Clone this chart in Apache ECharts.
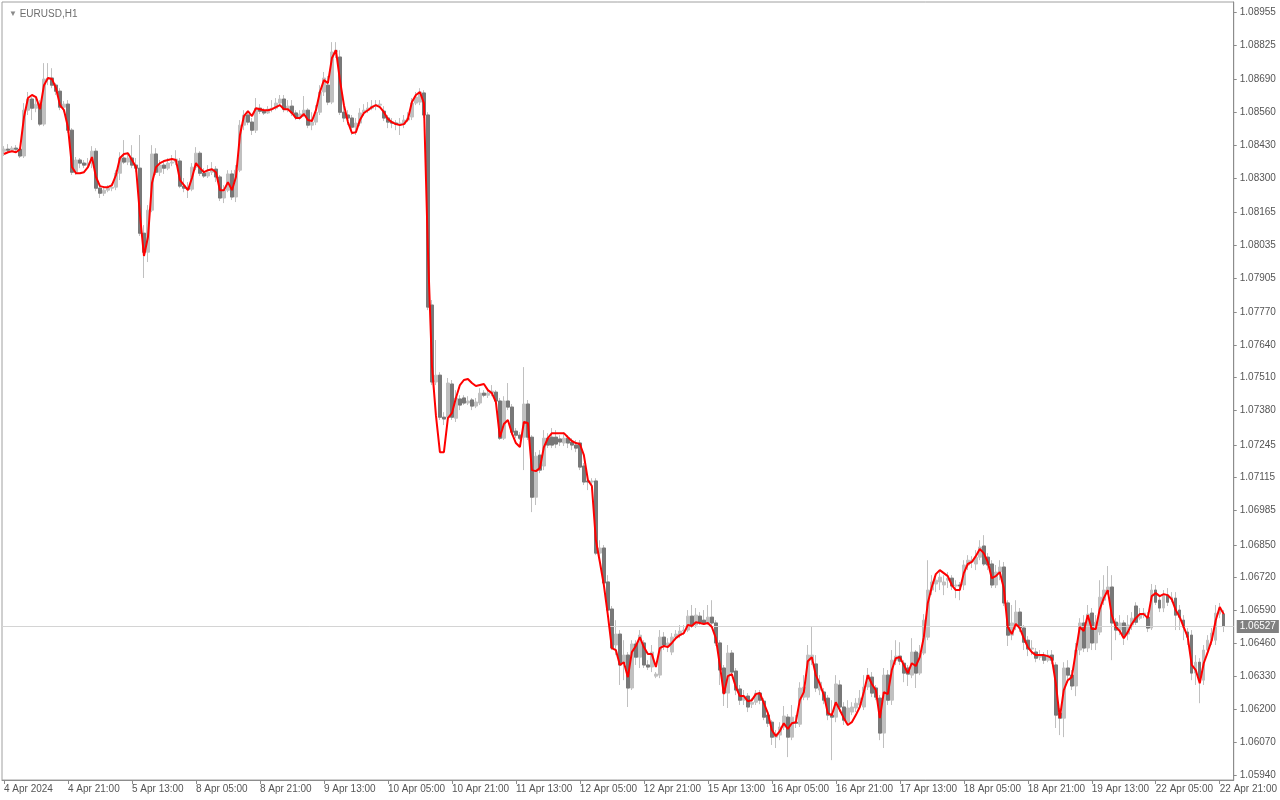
<!DOCTYPE html>
<html>
<head>
<meta charset="utf-8">
<script src="https://cdn.jsdelivr.net/npm/echarts@6/dist/echarts.min.js"></script>
<style>
html,body{margin:0;padding:0;background:#fff;}
#c{width:1280px;height:800px;}
</style>
</head>
<body>
<div id="c"></div>
<script>
// ---- data (EURUSD H1, 4 Apr 2024 05:00 .. 22 Apr 2024 22:00) ----
const symbolTitle = 'EURUSD,H1';
const startTime = '2024-04-04T05:00:00Z';
const priceTicks = ['1.08955','1.08825','1.08690','1.08560','1.08430','1.08300','1.08165','1.08035','1.07905','1.07770','1.07640','1.07510','1.07380','1.07245','1.07115','1.06985','1.06850','1.06720','1.06590','1.06460','1.06330','1.06200','1.06070','1.05940'];
const lastPrice = 1.06527;

const openV = [1.08405,1.08413,1.08409,1.08417,1.08413,1.08386,1.08567,1.08611,1.08575,1.08591,1.08512,1.08690,1.08694,1.08666,1.08642,1.08579,1.08591,1.08488,1.08322,1.08370,
1.08358,1.08350,1.08358,1.08405,1.08259,1.08239,1.08251,1.08259,1.08263,1.08318,1.08378,1.08362,1.08378,1.08350,1.08338,1.08081,1.08006,1.08172,1.08394,1.08322,
1.08350,1.08338,1.08358,1.08362,1.08366,1.08267,1.08259,1.08255,1.08342,1.08397,1.08318,1.08307,1.08322,1.08334,1.08303,1.08220,1.08251,1.08315,1.08224,1.08330,
1.08508,1.08548,1.08520,1.08488,1.08575,1.08563,1.08556,1.08571,1.08575,1.08595,1.08611,1.08571,1.08583,1.08556,1.08540,1.08552,1.08567,1.08508,1.08520,1.08559,
1.08639,1.08666,1.08599,1.08797,1.08777,1.08559,1.08548,1.08536,1.08500,1.08516,1.08556,1.08567,1.08575,1.08583,1.08587,1.08563,1.08536,1.08520,1.08516,1.08512,
1.08512,1.08528,1.08540,1.08595,1.08599,1.08635,1.08548,1.07797,1.07493,1.07520,1.07354,1.07354,1.07485,1.07350,1.07426,1.07430,1.07410,1.07422,1.07398,1.07410,
1.07449,1.07441,1.07449,1.07453,1.07418,1.07271,1.07418,1.07394,1.07299,1.07283,1.07275,1.07406,1.07275,1.07038,1.07204,1.07161,1.07271,1.07275,1.07275,1.07268,
1.07252,1.07271,1.07256,1.07244,1.07252,1.07161,1.07102,1.07098,1.07102,1.06817,1.06837,1.06703,1.06596,1.06454,1.06497,1.06382,1.06414,1.06284,1.06458,1.06406,
1.06462,1.06375,1.06367,1.06331,1.06335,1.06485,1.06454,1.06426,1.06485,1.06493,1.06509,1.06513,1.06568,1.06533,1.06568,1.06552,1.06541,1.06564,1.06541,1.06462,
1.06363,1.06264,1.06422,1.06351,1.06280,1.06236,1.06252,1.06220,1.06228,1.06264,1.06232,1.06177,1.06149,1.06090,1.06098,1.06130,1.06169,1.06090,1.06149,1.06141,
1.06248,1.06248,1.06394,1.06379,1.06276,1.06268,1.06244,1.06177,1.06169,1.06296,1.06209,1.06149,1.06189,1.06205,1.06217,1.06209,1.06288,1.06327,1.06284,1.06244,
1.06106,1.06335,1.06236,1.06394,1.06410,1.06382,1.06363,1.06335,1.06426,1.06343,1.06422,1.06485,1.06671,1.06695,1.06703,1.06691,1.06710,1.06718,1.06687,1.06691,
1.06691,1.06770,1.06782,1.06774,1.06801,1.06845,1.06801,1.06774,1.06691,1.06742,1.06762,1.06620,1.06493,1.06533,1.06584,1.06521,1.06473,1.06438,1.06426,1.06406,
1.06414,1.06394,1.06414,1.06375,1.06185,1.06165,1.06363,1.06335,1.06292,1.06434,1.06541,1.06442,1.06580,1.06462,1.06505,1.06631,1.06663,1.06683,1.06544,1.06513,
1.06541,1.06497,1.06533,1.06608,1.06560,1.06572,1.06564,1.06521,1.06671,1.06631,1.06600,1.06651,1.06635,1.06639,1.06592,1.06552,1.06505,1.06493,1.06343,1.06386,
1.06315,1.06434,1.06473,1.06473,1.06576,1.06576];

const highV = [1.08425,1.08433,1.08425,1.08429,1.08421,1.08595,1.08639,1.08619,1.08623,1.08607,1.08753,1.08753,1.08733,1.08674,1.08654,1.08603,1.08607,1.08496,1.08382,1.08378,
1.08370,1.08378,1.08425,1.08417,1.08271,1.08267,1.08271,1.08279,1.08330,1.08401,1.08449,1.08401,1.08429,1.08378,1.08469,1.08113,1.08192,1.08429,1.08417,1.08370,
1.08370,1.08378,1.08390,1.08409,1.08378,1.08299,1.08283,1.08358,1.08421,1.08405,1.08338,1.08350,1.08362,1.08346,1.08311,1.08271,1.08330,1.08330,1.08350,1.08528,
1.08567,1.08556,1.08536,1.08615,1.08591,1.08575,1.08583,1.08607,1.08615,1.08627,1.08627,1.08607,1.08607,1.08567,1.08567,1.08623,1.08575,1.08559,1.08587,1.08666,
1.08718,1.08702,1.08836,1.08836,1.08804,1.08587,1.08567,1.08548,1.08536,1.08575,1.08591,1.08599,1.08607,1.08607,1.08607,1.08583,1.08548,1.08536,1.08528,1.08536,
1.08548,1.08559,1.08615,1.08639,1.08654,1.08646,1.08559,1.07817,1.07659,1.07532,1.07374,1.07509,1.07501,1.07461,1.07441,1.07441,1.07437,1.07430,1.07430,1.07469,
1.07461,1.07469,1.07481,1.07461,1.07430,1.07437,1.07489,1.07406,1.07311,1.07295,1.07552,1.07422,1.07283,1.07216,1.07224,1.07303,1.07291,1.07311,1.07303,1.07283,
1.07295,1.07283,1.07271,1.07264,1.07264,1.07173,1.07125,1.07113,1.07113,1.06868,1.06849,1.06730,1.06608,1.06552,1.06513,1.06473,1.06426,1.06473,1.06473,1.06513,
1.06473,1.06394,1.06454,1.06347,1.06513,1.06505,1.06481,1.06501,1.06513,1.06533,1.06533,1.06592,1.06612,1.06600,1.06584,1.06592,1.06612,1.06631,1.06552,1.06473,
1.06375,1.06454,1.06434,1.06363,1.06296,1.06276,1.06264,1.06244,1.06276,1.06276,1.06244,1.06189,1.06157,1.06118,1.06149,1.06213,1.06181,1.06217,1.06177,1.06307,
1.06335,1.06454,1.06525,1.06414,1.06335,1.06284,1.06256,1.06236,1.06335,1.06315,1.06228,1.06236,1.06228,1.06244,1.06276,1.06335,1.06363,1.06347,1.06296,1.06256,
1.06363,1.06355,1.06434,1.06473,1.06465,1.06394,1.06375,1.06481,1.06434,1.06454,1.06576,1.06789,1.06730,1.06730,1.06750,1.06730,1.06742,1.06730,1.06710,1.06703,
1.06789,1.06809,1.06805,1.06829,1.06868,1.06888,1.06817,1.06789,1.06770,1.06789,1.06782,1.06631,1.06612,1.06631,1.06600,1.06533,1.06489,1.06473,1.06442,1.06434,
1.06426,1.06434,1.06434,1.06386,1.06205,1.06386,1.06394,1.06355,1.06462,1.06560,1.06572,1.06612,1.06600,1.06572,1.06710,1.06730,1.06766,1.06730,1.06560,1.06572,
1.06552,1.06572,1.06584,1.06623,1.06600,1.06600,1.06584,1.06695,1.06691,1.06651,1.06671,1.06679,1.06663,1.06663,1.06612,1.06572,1.06521,1.06513,1.06414,1.06402,
1.06454,1.06493,1.06521,1.06612,1.06620,1.06592];

const lowV = [1.08386,1.08401,1.08405,1.08401,1.08378,1.08378,1.08548,1.08528,1.08559,1.08504,1.08504,1.08666,1.08654,1.08627,1.08567,1.08559,1.08477,1.08311,1.08311,1.08338,
1.08338,1.08342,1.08338,1.08247,1.08220,1.08228,1.08243,1.08247,1.08251,1.08291,1.08354,1.08350,1.08338,1.08322,1.08070,1.07904,1.07967,1.08164,1.08311,1.08307,
1.08315,1.08330,1.08346,1.08350,1.08259,1.08243,1.08220,1.08247,1.08330,1.08307,1.08299,1.08299,1.08311,1.08283,1.08208,1.08200,1.08243,1.08212,1.08204,1.08322,
1.08488,1.08508,1.08469,1.08477,1.08552,1.08548,1.08552,1.08559,1.08567,1.08587,1.08559,1.08559,1.08544,1.08528,1.08528,1.08540,1.08496,1.08488,1.08508,1.08548,
1.08623,1.08587,1.08591,1.08773,1.08548,1.08520,1.08508,1.08469,1.08469,1.08504,1.08544,1.08556,1.08567,1.08567,1.08575,1.08524,1.08496,1.08496,1.08488,1.08469,
1.08496,1.08520,1.08528,1.08587,1.08587,1.08536,1.07777,1.07481,1.07481,1.07343,1.07323,1.07343,1.07343,1.07335,1.07382,1.07402,1.07402,1.07382,1.07390,1.07402,
1.07433,1.07430,1.07437,1.07406,1.07264,1.07264,1.07382,1.07283,1.07271,1.07264,1.07145,1.07264,1.06979,1.07007,1.07133,1.07145,1.07232,1.07232,1.07232,1.07240,
1.07240,1.07232,1.07224,1.07216,1.07145,1.07086,1.07066,1.07066,1.06809,1.06805,1.06691,1.06584,1.06434,1.06414,1.06296,1.06315,1.06209,1.06276,1.06375,1.06363,
1.06363,1.06355,1.06347,1.06323,1.06323,1.06434,1.06426,1.06414,1.06473,1.06481,1.06493,1.06505,1.06521,1.06521,1.06533,1.06533,1.06533,1.06525,1.06450,1.06296,
1.06213,1.06205,1.06335,1.06256,1.06217,1.06217,1.06189,1.06205,1.06217,1.06220,1.06157,1.06130,1.06059,1.06047,1.06078,1.06118,1.06011,1.06078,1.06126,1.06130,
1.06236,1.06236,1.06375,1.06268,1.06256,1.06220,1.06157,1.05999,1.06149,1.06189,1.06138,1.06134,1.06177,1.06189,1.06205,1.06197,1.06276,1.06248,1.06236,1.06078,
1.06047,1.06217,1.06217,1.06375,1.06375,1.06307,1.06292,1.06323,1.06284,1.06335,1.06414,1.06473,1.06651,1.06663,1.06671,1.06651,1.06679,1.06671,1.06639,1.06631,
1.06671,1.06750,1.06758,1.06750,1.06789,1.06766,1.06750,1.06679,1.06679,1.06710,1.06608,1.06450,1.06473,1.06513,1.06505,1.06434,1.06410,1.06414,1.06386,1.06394,
1.06379,1.06386,1.06379,1.06126,1.06098,1.06090,1.06315,1.06276,1.06252,1.06414,1.06426,1.06426,1.06434,1.06434,1.06493,1.06612,1.06651,1.06394,1.06473,1.06493,
1.06454,1.06473,1.06513,1.06533,1.06552,1.06560,1.06505,1.06513,1.06612,1.06584,1.06584,1.06608,1.06623,1.06513,1.06513,1.06473,1.06454,1.06315,1.06296,1.06224,
1.06296,1.06414,1.06454,1.06454,1.06560,1.06505];

const closeV = [1.08413,1.08409,1.08417,1.08413,1.08386,1.08567,1.08611,1.08575,1.08591,1.08512,1.08690,1.08694,1.08666,1.08642,1.08579,1.08591,1.08488,1.08322,1.08370,1.08358,
1.08350,1.08358,1.08405,1.08259,1.08239,1.08251,1.08259,1.08263,1.08318,1.08378,1.08362,1.08378,1.08350,1.08338,1.08081,1.08006,1.08172,1.08394,1.08322,1.08350,
1.08338,1.08358,1.08362,1.08374,1.08267,1.08259,1.08255,1.08342,1.08397,1.08318,1.08307,1.08322,1.08334,1.08303,1.08220,1.08251,1.08315,1.08224,1.08330,1.08508,
1.08548,1.08520,1.08488,1.08575,1.08563,1.08556,1.08571,1.08575,1.08595,1.08611,1.08571,1.08583,1.08556,1.08540,1.08552,1.08567,1.08508,1.08520,1.08559,1.08639,
1.08694,1.08599,1.08797,1.08804,1.08559,1.08536,1.08536,1.08500,1.08516,1.08556,1.08567,1.08575,1.08583,1.08587,1.08591,1.08536,1.08520,1.08516,1.08512,1.08516,
1.08528,1.08536,1.08595,1.08619,1.08639,1.08548,1.07789,1.07493,1.07520,1.07354,1.07347,1.07489,1.07354,1.07430,1.07402,1.07410,1.07418,1.07398,1.07414,1.07449,
1.07441,1.07449,1.07457,1.07418,1.07271,1.07418,1.07394,1.07295,1.07283,1.07271,1.07406,1.07275,1.07038,1.07200,1.07145,1.07271,1.07244,1.07244,1.07248,1.07256,
1.07271,1.07252,1.07244,1.07232,1.07157,1.07098,1.07098,1.07102,1.06817,1.06837,1.06699,1.06592,1.06442,1.06497,1.06375,1.06414,1.06284,1.06458,1.06406,1.06493,
1.06375,1.06367,1.06426,1.06339,1.06485,1.06454,1.06462,1.06485,1.06497,1.06509,1.06513,1.06568,1.06533,1.06572,1.06544,1.06541,1.06564,1.06541,1.06462,1.06355,
1.06264,1.06422,1.06347,1.06276,1.06236,1.06252,1.06209,1.06228,1.06264,1.06236,1.06169,1.06145,1.06090,1.06102,1.06130,1.06173,1.06090,1.06169,1.06145,1.06284,
1.06288,1.06414,1.06414,1.06284,1.06307,1.06236,1.06177,1.06169,1.06300,1.06209,1.06157,1.06205,1.06209,1.06224,1.06244,1.06288,1.06335,1.06264,1.06248,1.06106,
1.06335,1.06236,1.06394,1.06410,1.06390,1.06343,1.06339,1.06426,1.06343,1.06422,1.06552,1.06671,1.06703,1.06710,1.06722,1.06703,1.06718,1.06687,1.06691,1.06687,
1.06770,1.06789,1.06789,1.06801,1.06841,1.06774,1.06770,1.06691,1.06742,1.06762,1.06620,1.06493,1.06541,1.06584,1.06521,1.06465,1.06438,1.06442,1.06402,1.06414,
1.06394,1.06414,1.06394,1.06177,1.06165,1.06363,1.06335,1.06292,1.06434,1.06541,1.06442,1.06576,1.06462,1.06544,1.06643,1.06671,1.06683,1.06541,1.06513,1.06541,
1.06493,1.06533,1.06560,1.06544,1.06576,1.06580,1.06521,1.06671,1.06623,1.06600,1.06651,1.06623,1.06643,1.06572,1.06564,1.06525,1.06485,1.06343,1.06386,1.06315,
1.06434,1.06473,1.06501,1.06580,1.06600,1.06527];

// red smoothed indicator line
const smoothV = [1.08394,1.08401,1.08405,1.08401,1.08413,1.08540,1.08615,1.08627,1.08619,1.08571,1.08666,1.08694,1.08690,1.08654,1.08587,1.08567,1.08500,1.08342,1.08318,1.08318,
1.08322,1.08342,1.08382,1.08303,1.08267,1.08263,1.08263,1.08271,1.08311,1.08378,1.08394,1.08397,1.08370,1.08342,1.08153,1.07991,1.08066,1.08279,1.08342,1.08358,
1.08366,1.08370,1.08374,1.08370,1.08291,1.08271,1.08251,1.08299,1.08358,1.08338,1.08322,1.08330,1.08334,1.08322,1.08251,1.08251,1.08283,1.08251,1.08303,1.08469,
1.08544,1.08563,1.08544,1.08575,1.08571,1.08567,1.08567,1.08571,1.08579,1.08587,1.08571,1.08571,1.08556,1.08536,1.08536,1.08552,1.08528,1.08524,1.08567,1.08639,
1.08686,1.08674,1.08773,1.08804,1.08686,1.08587,1.08520,1.08477,1.08480,1.08528,1.08556,1.08567,1.08579,1.08587,1.08579,1.08559,1.08532,1.08520,1.08512,1.08508,
1.08512,1.08532,1.08599,1.08627,1.08639,1.08595,1.08015,1.07560,1.07362,1.07216,1.07216,1.07350,1.07370,1.07430,1.07481,1.07501,1.07505,1.07489,1.07477,1.07481,
1.07485,1.07461,1.07449,1.07414,1.07275,1.07327,1.07343,1.07291,1.07252,1.07236,1.07335,1.07331,1.07145,1.07141,1.07153,1.07236,1.07271,1.07291,1.07291,1.07291,
1.07291,1.07275,1.07260,1.07252,1.07248,1.07204,1.07106,1.07082,1.06868,1.06782,1.06691,1.06572,1.06442,1.06434,1.06375,1.06386,1.06327,1.06426,1.06450,1.06485,
1.06446,1.06418,1.06418,1.06367,1.06442,1.06450,1.06446,1.06462,1.06481,1.06493,1.06501,1.06533,1.06529,1.06544,1.06541,1.06537,1.06541,1.06525,1.06481,1.06375,
1.06260,1.06331,1.06339,1.06288,1.06252,1.06252,1.06232,1.06236,1.06260,1.06264,1.06224,1.06185,1.06118,1.06094,1.06114,1.06145,1.06122,1.06145,1.06149,1.06236,
1.06268,1.06390,1.06406,1.06335,1.06300,1.06256,1.06185,1.06177,1.06228,1.06197,1.06165,1.06138,1.06149,1.06177,1.06209,1.06268,1.06335,1.06300,1.06276,1.06165,
1.06268,1.06260,1.06355,1.06402,1.06406,1.06375,1.06343,1.06382,1.06371,1.06406,1.06485,1.06620,1.06683,1.06734,1.06750,1.06738,1.06726,1.06691,1.06671,1.06671,
1.06738,1.06774,1.06782,1.06805,1.06833,1.06817,1.06782,1.06718,1.06726,1.06742,1.06679,1.06525,1.06497,1.06537,1.06521,1.06481,1.06446,1.06426,1.06414,1.06414,
1.06414,1.06410,1.06402,1.06303,1.06165,1.06276,1.06315,1.06327,1.06426,1.06525,1.06509,1.06572,1.06517,1.06517,1.06596,1.06639,1.06671,1.06572,1.06525,1.06509,
1.06481,1.06505,1.06537,1.06560,1.06576,1.06576,1.06560,1.06647,1.06659,1.06647,1.06655,1.06651,1.06635,1.06592,1.06564,1.06525,1.06485,1.06375,1.06355,1.06303,
1.06382,1.06426,1.06473,1.06552,1.06604,1.06576];

// ---- categories (hourly bars, weekends skipped) ----
const monthNames = ['Jan','Feb','Mar','Apr','May','Jun','Jul','Aug','Sep','Oct','Nov','Dec'];
function buildHours(startIso, n) {
  const out = [];
  let t = Date.parse(startIso);
  while (out.length < n) {
    const d = new Date(t);
    const wd = d.getUTCDay();
    if (wd !== 0 && wd !== 6) {
      const hh = String(d.getUTCHours()).padStart(2, '0');
      out.push(d.getUTCDate() + ' ' + monthNames[d.getUTCMonth()] + ' ' + hh + ':00');
    }
    t += 3600000;
  }
  return out;
}
const categories = buildHours(startTime, closeV.length);
const firstLabel = '4 Apr 2024';

// ---- build series data ----
const ohlc = closeV.map((c, i) => [openV[i], c, lowV[i], highV[i]]);
const bearBodies = closeV.map((c, i) => c < openV[i]
  ? [openV[i], c, Math.min(openV[i], c), Math.max(openV[i], c)]
  : '-');
const axisCats = categories.concat(['', '']);

const chart = echarts.init(document.getElementById('c'), null, { renderer: 'canvas' });
const FONT = 'Liberation Sans';
const option = {
  animation: false,
  backgroundColor: '#ffffff',
  title: {
    text: '{t|▼} ' + symbolTitle,
    left: 4, top: 4,
    textStyle: {
      fontSize: 10, fontWeight: 'normal', color: '#6e6e6e', fontFamily: FONT,
      rich: { t: { fontSize: 8, color: '#8a8a8a', fontFamily: FONT } }
    }
  },
  grid: { left: 2, right: 46, top: 2, bottom: 20, show: true, borderColor: '#a0a0a0', borderWidth: 1, backgroundColor: '#ffffff' },
  xAxis: {
    type: 'category',
    data: axisCats,
    boundaryGap: true,
    axisLine: { show: true, lineStyle: { color: '#8c8c8c', width: 1 } },
    axisTick: { show: true, interval: 15, alignWithLabel: true, length: 4, lineStyle: { color: '#8c8c8c' } },
    axisLabel: {
      interval: 15, align: 'left', margin: 4, fontSize: 10, color: '#555555', fontFamily: FONT,
      formatter: (v, idx) => idx === 0 ? firstLabel : v
    },
    splitLine: { show: false }
  },
  yAxis: {
    type: 'value',
    position: 'right',
    min: 1.059206, max: 1.089945,
    axisLine: { show: true, lineStyle: { color: '#8c8c8c', width: 1 } },
    axisTick: { show: true, length: 3, lineStyle: { color: '#8c8c8c' }, customValues: priceTicks.map(Number) },
    axisLabel: {
      margin: 6, fontSize: 10, color: '#555555', fontFamily: FONT,
      customValues: priceTicks.map(Number),
      formatter: v => v.toFixed(5)
    },
    splitLine: { show: false }
  },
  series: [
    {
      name: 'bars',
      type: 'candlestick',
      data: ohlc,
      barWidth: 3,
      itemStyle: { color: '#c0c0c0', color0: '#c0c0c0', borderColor: '#c0c0c0', borderColor0: '#c0c0c0', borderWidth: 1 },
      markLine: {
        silent: true,
        precision: 5,
        symbol: ['none', 'none'],
        lineStyle: { color: '#d4d4d4', width: 1, type: 'solid' },
        label: {
          show: true, position: 'end', distance: 3,
          formatter: () => lastPrice.toFixed(5),
          backgroundColor: '#808080', color: '#ffffff', padding: [2, 3, 1, 3],
          fontSize: 10, fontFamily: FONT
        },
        data: [{ yAxis: lastPrice }]
      },
      z: 2
    },
    {
      name: 'bear',
      type: 'candlestick',
      data: bearBodies,
      barWidth: 3,
      itemStyle: { color: '#787878', color0: '#787878', borderColor: '#787878', borderColor0: '#787878', borderWidth: 1 },
      z: 3
    },
    {
      name: 'smooth',
      type: 'line',
      data: smoothV,
      showSymbol: false,
      symbol: 'none',
      lineStyle: { color: '#ff0000', width: 2 },
      z: 5
    }
  ]
};
chart.setOption(option);
</script>
</body>
</html>
